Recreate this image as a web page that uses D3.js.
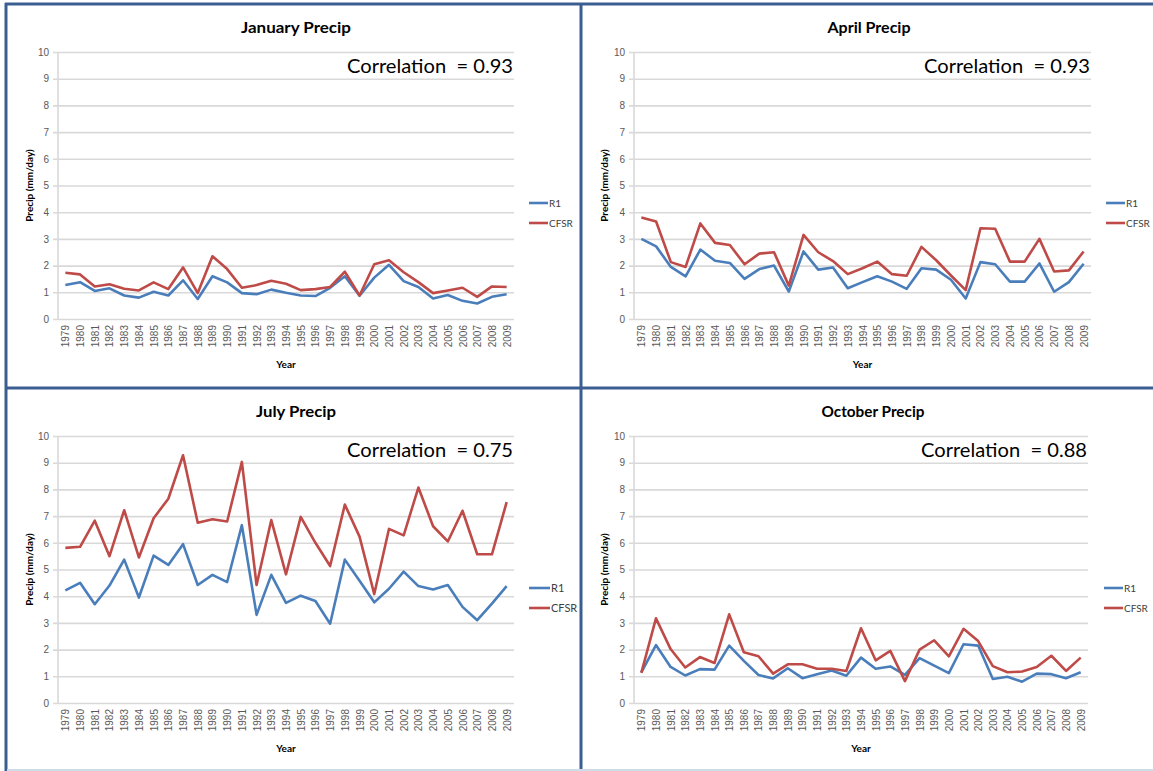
<!DOCTYPE html>
<html><head><meta charset="utf-8">
<script src="https://cdn.jsdelivr.net/npm/d3@7"></script>
<style>
body{margin:0;background:#fff;}
svg{display:block;font-family:Lato,"Open Sans",sans-serif;}
</style></head>
<body><svg id="c" width="1153" height="771"></svg>
<script>
const years = d3.range(1979, 2010).map(String);
const yTicks = [0,1,2,3,4,5,6,7,8,9,10];
const seriesNames = ["R1","CFSR"];
const seriesColors = ["#4a7ebb","#be4b48"];

const janR1   = [1.27,1.38,1.05,1.15,0.88,0.80,1.02,0.88,1.45,0.75,1.60,1.37,0.97,0.93,1.10,0.98,0.88,0.86,1.17,1.60,0.87,1.55,2.03,1.42,1.20,0.77,0.90,0.68,0.58,0.83,0.93];
const janCFSR = [1.73,1.67,1.22,1.30,1.13,1.07,1.37,1.12,1.93,0.97,2.35,1.87,1.17,1.27,1.43,1.32,1.08,1.12,1.20,1.77,0.88,2.05,2.20,1.75,1.38,0.97,1.07,1.17,0.83,1.22,1.20];
const aprR1   = [3.00,2.72,1.95,1.60,2.60,2.18,2.10,1.50,1.87,2.00,1.03,2.53,1.85,1.93,1.15,1.38,1.60,1.40,1.13,1.90,1.85,1.47,0.77,2.13,2.05,1.40,1.40,2.08,1.02,1.38,2.07];
const aprCFSR = [3.80,3.65,2.13,1.95,3.58,2.85,2.77,2.05,2.45,2.50,1.25,3.15,2.50,2.17,1.68,1.90,2.15,1.68,1.62,2.70,2.20,1.63,1.08,3.40,3.38,2.15,2.15,3.00,1.78,1.82,2.53];
const julR1   = [4.22,4.50,3.70,4.40,5.37,3.95,5.52,5.17,5.95,4.42,4.80,4.53,6.66,3.30,4.80,3.75,4.02,3.82,2.97,5.37,4.58,3.77,4.28,4.92,4.38,4.25,4.42,3.60,3.10,3.72,4.38];
const julCFSR = [5.81,5.85,6.83,5.50,7.22,5.45,6.92,7.65,9.28,6.75,6.88,6.80,9.03,4.42,6.85,4.82,6.97,6.00,5.13,7.43,6.23,4.08,6.52,6.28,8.07,6.62,6.05,7.20,5.57,5.57,7.52];
const octR1   = [1.15,2.17,1.35,1.03,1.27,1.25,2.15,1.58,1.05,0.92,1.30,0.93,1.08,1.22,1.02,1.70,1.28,1.37,1.05,1.68,1.40,1.12,2.20,2.15,0.90,0.98,0.80,1.10,1.08,0.93,1.15];
const octCFSR = [1.13,3.17,2.02,1.33,1.72,1.50,3.32,1.90,1.75,1.10,1.45,1.45,1.28,1.28,1.20,2.80,1.60,1.95,0.82,2.00,2.35,1.75,2.78,2.32,1.38,1.15,1.18,1.35,1.77,1.20,1.70];

const titles = ["January Precip","April Precip","July Precip","October Precip"];
const correlations = ["0.93","0.93","0.75","0.88"];
const yLabel = "Precip (mm/day)";
const xLabel = "Year";

const svg = d3.select("#c");

// frame
const frame = svg.append("g");
frame.append("line").attr("x1",5).attr("x2",1153).attr("y1",4).attr("y2",4).attr("stroke","#3a5e91").attr("stroke-width",3);
frame.append("line").attr("x1",6).attr("x2",6).attr("y1",3).attr("y2",771).attr("stroke","#3a5e91").attr("stroke-width",3);
frame.append("line").attr("x1",581).attr("x2",581).attr("y1",3).attr("y2",771).attr("stroke","#3a5e91").attr("stroke-width",3);
frame.append("line").attr("x1",5).attr("x2",1153).attr("y1",388).attr("y2",388).attr("stroke","#3a5e91").attr("stroke-width",3);
frame.append("line").attr("x1",7).attr("x2",1153).attr("y1",770).attr("y2",770).attr("stroke","#d0dbe8").attr("stroke-width",2);

const panels = [
  {title:titles[0], corr:correlations[0], r1:janR1, cf:janCFSR, x0:58, x1:514, y0:52, y1:319, tx:296, ty:33, tw:110, lx:529, ly:203, lfs:10, ylx:29},
  {title:titles[1], corr:correlations[1], r1:aprR1, cf:aprCFSR, x0:634, x1:1091, y0:52, y1:319, tx:869, ty:33, tw:83, lx:1106, ly:203, lfs:10, ylx:604},
  {title:titles[2], corr:correlations[2], r1:julR1, cf:julCFSR, x0:58, x1:514, y0:436, y1:703, tx:296, ty:417, tw:80, lx:529, ly:588, lfs:11, ylx:29},
  {title:titles[3], corr:correlations[3], r1:octR1, cf:octCFSR, x0:634, x1:1088, y0:436, y1:703, tx:873, ty:417, tw:103, lx:1104, ly:588, lfs:10, ylx:604}
];

panels.forEach(p => {
  const g = svg.append("g");
  const x = d3.scalePoint().domain(years).range([p.x0, p.x1]).padding(0.5);
  const y = d3.scaleLinear().domain([0,10]).range([p.y1, p.y0]);

  const ya = d3.axisLeft(y).tickValues(yTicks).tickSize(-(p.x1-p.x0)).tickPadding(9).tickFormat(d3.format("d"));
  const yg = g.append("g").attr("transform",`translate(${p.x0},0)`).call(ya);
  yg.select(".domain").remove();
  yg.selectAll(".tick line").attr("stroke","#d9d9d9").attr("stroke-width",1.6).attr("x1",-5);
  yg.selectAll(".tick text").attr("fill","#595959").style("font-size","10px").style("font-family","'Liberation Sans',sans-serif");
  g.append("line").attr("x1",p.x0).attr("x2",p.x0).attr("y1",p.y0).attr("y2",p.y1).attr("stroke","#d9d9d9").attr("stroke-width",1.6);

  const xa = d3.axisBottom(x).tickSize(0).tickPadding(6);
  const xg = g.append("g").attr("transform",`translate(0,${p.y1})`).call(xa);
  xg.select(".domain").remove();
  xg.selectAll(".tick text")
    .attr("transform","rotate(-90)")
    .attr("text-anchor","end")
    .attr("x",-6).attr("y",0).attr("dy","0.35em")
    .attr("fill","#595959").style("font-size","10px").style("font-family","'Liberation Sans',sans-serif");

  const line = d3.line().x((d,i)=>x(years[i])).y(d=>y(d));
  [p.r1, p.cf].forEach((s,k) => {
    g.append("path").datum(s).attr("d",line).attr("fill","none")
      .attr("stroke",seriesColors[k]).attr("stroke-width",2.6).attr("stroke-linejoin","round");
  });

  g.append("text").attr("x",p.tx).attr("y",p.ty).attr("text-anchor","middle")
    .style("font-weight","bold").style("font-size","16px").attr("fill","#000")
    .attr("textLength", p.tw).attr("lengthAdjust","spacingAndGlyphs")
    .text(p.title);

  const ct = "Correlation  = " + p.corr;
  g.append("text").attr("x",p.x1-1).attr("y",p.y0+21).attr("text-anchor","end")
    .style("font-size","20px").attr("fill","#000")
    .style("white-space","pre")
    .attr("textLength",166).attr("lengthAdjust","spacingAndGlyphs")
    .text(ct);

  g.append("text").attr("transform",`translate(${p.ylx},${(p.y0+p.y1)/2}) rotate(-90)`)
    .attr("text-anchor","middle").attr("dy","0.35em")
    .style("font-weight","bold").style("font-size","10px").attr("fill","#000")
    .text(yLabel);

  g.append("text").attr("x",(p.x0+p.x1)/2).attr("y",p.y1+49)
    .attr("text-anchor","middle").style("font-weight","bold").style("font-size","10px").attr("fill","#000")
    .text(xLabel);

  seriesNames.forEach((n,k) => {
    const ly = p.ly + k*20;
    g.append("line").attr("x1",p.lx).attr("x2",p.lx+(p.lfs>10?21:19)).attr("y1",ly).attr("y2",ly)
      .attr("stroke",seriesColors[k]).attr("stroke-width",2.6);
    g.append("text").attr("x",p.lx+(p.lfs>10?22:20)).attr("y",ly).attr("dy","0.35em")
      .style("font-size",p.lfs+"px").attr("fill","#404040").text(n);
  });
});
</script></body></html>
